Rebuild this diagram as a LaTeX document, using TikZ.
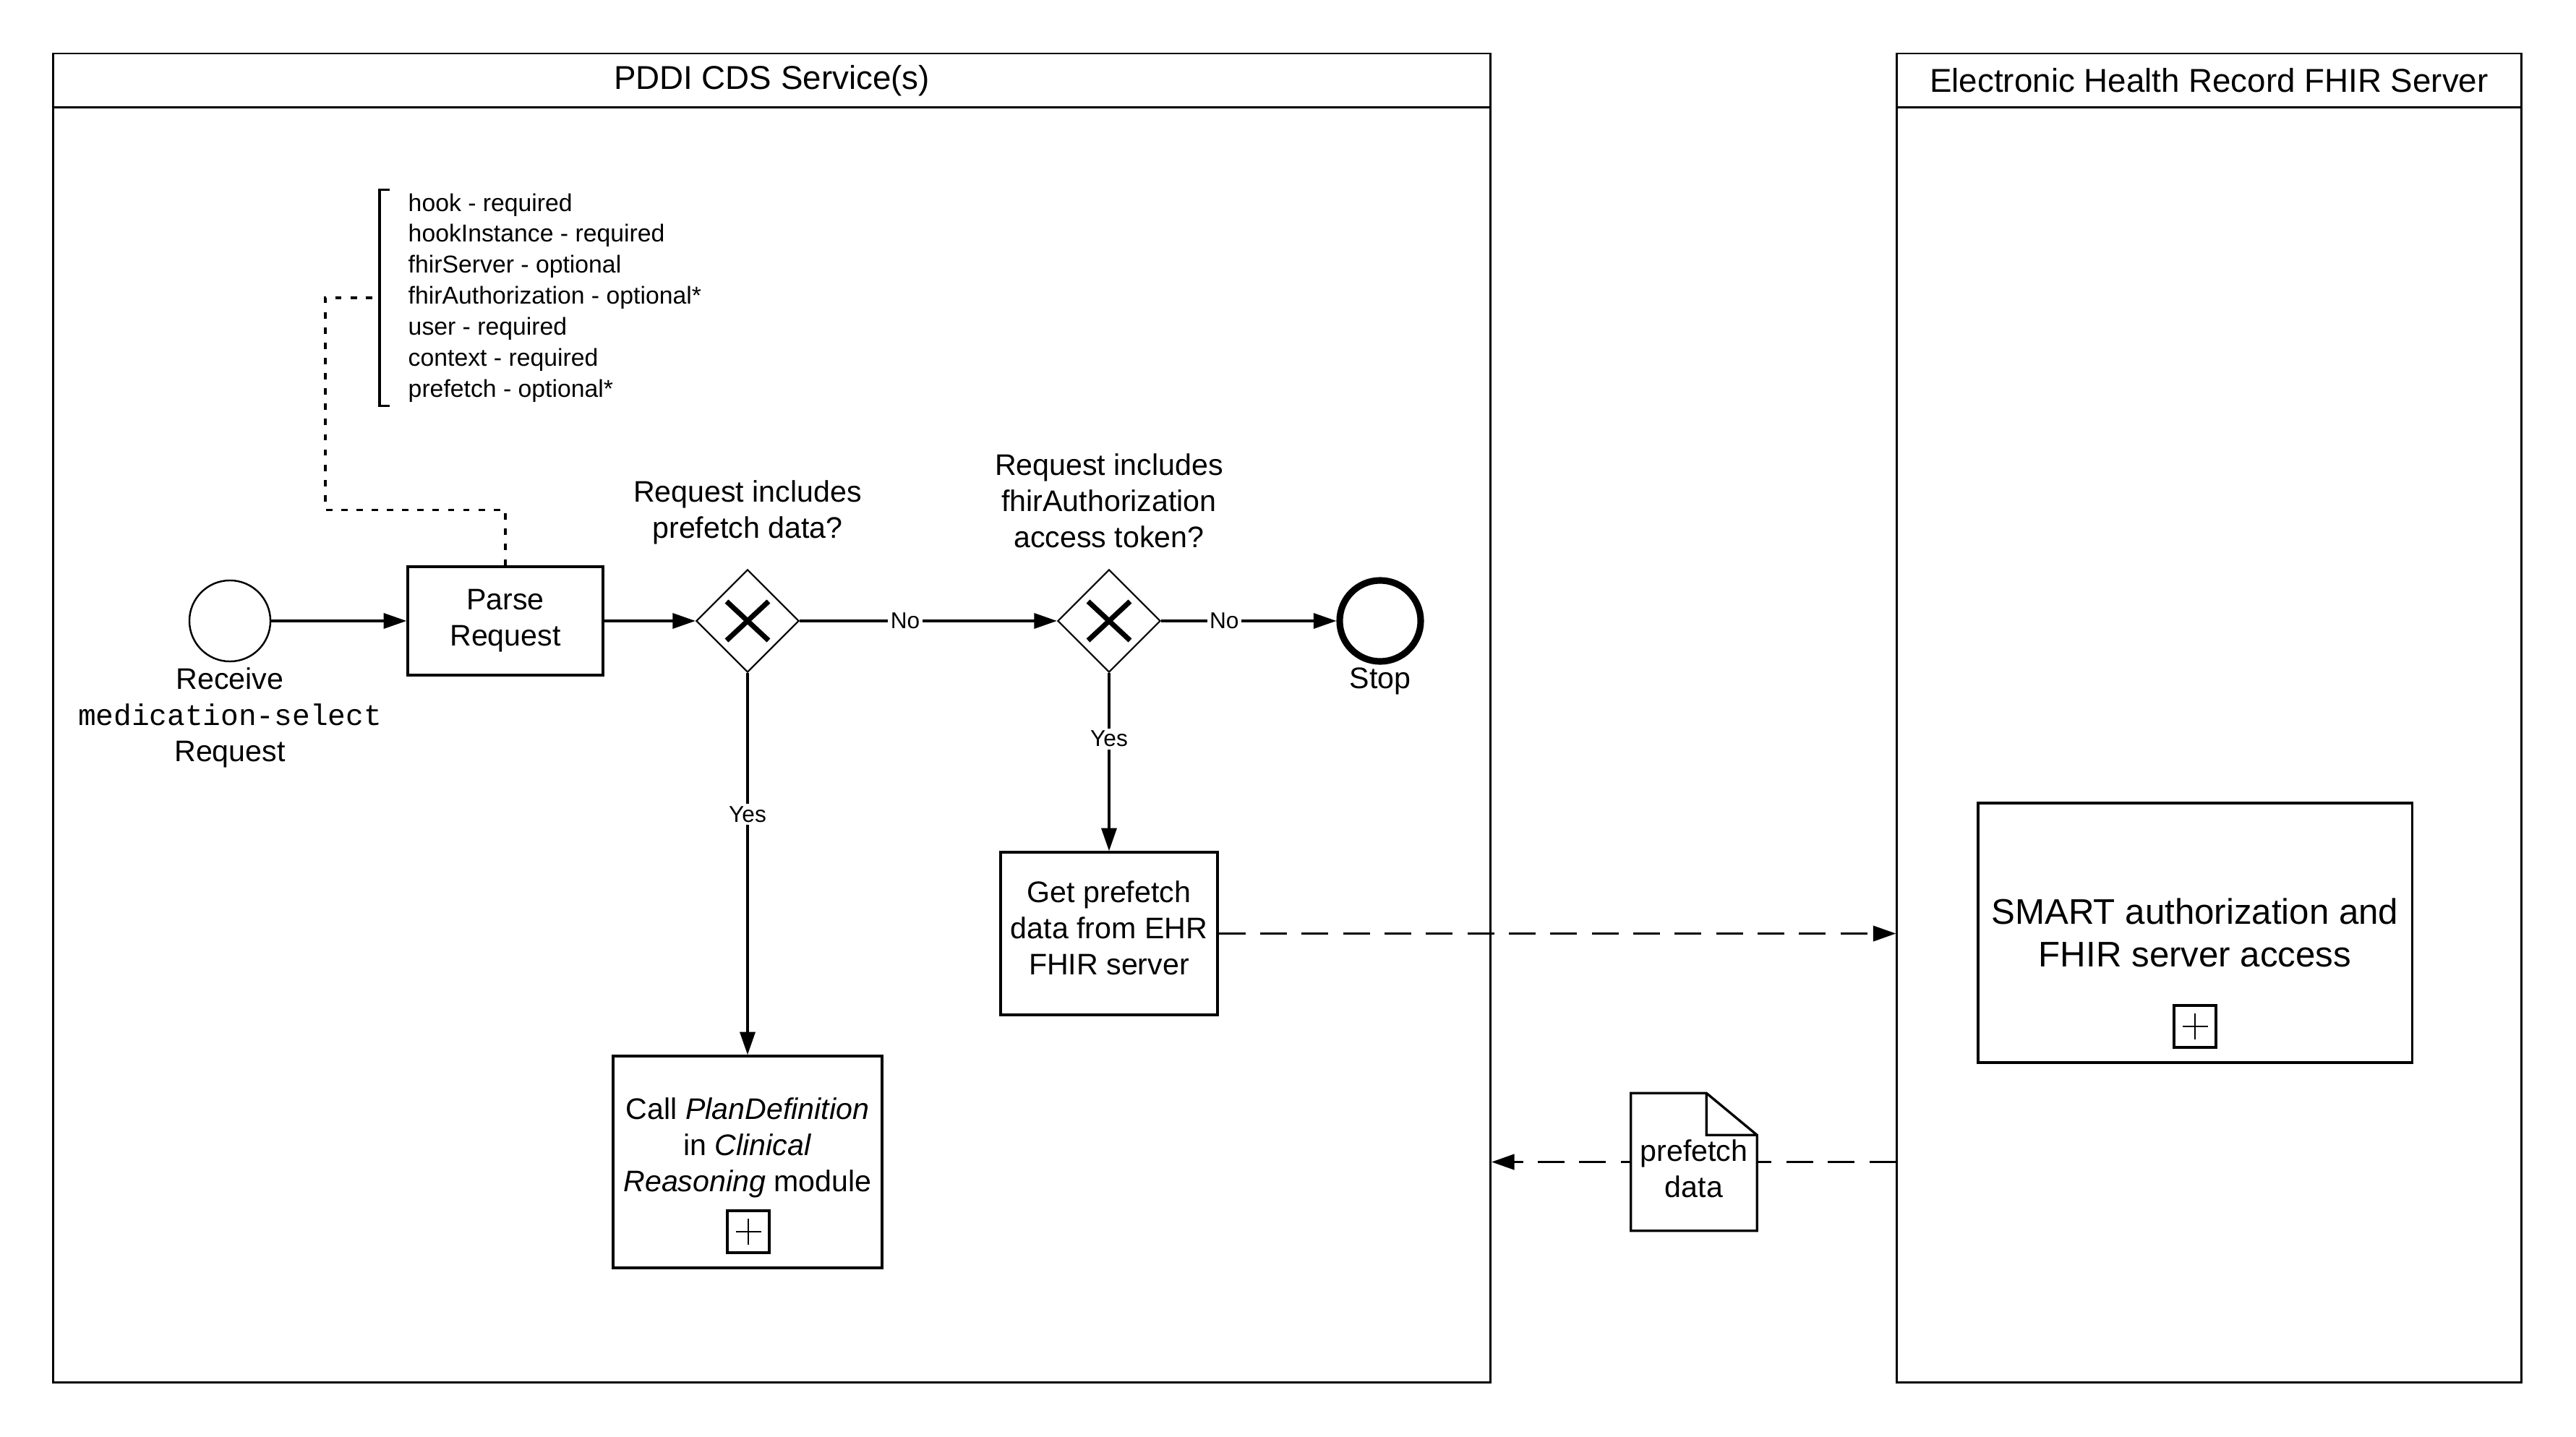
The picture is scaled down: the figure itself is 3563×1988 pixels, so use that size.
\documentclass[tikz,border=0pt]{standalone}
\usepackage{fontspec}
\setmainfont{Liberation Sans}
\setmonofont{Liberation Mono}
\usetikzlibrary{positioning, shapes.geometric, arrows.meta, backgrounds}

\begin{document}
\begin{tikzpicture}[x=0.01cm, y=-0.01cm]
		\tikzset{
			every node/.style={
				align=center,
				font=\fontsize{11.7}{14.2}\selectfont
			},
			pool/.style={
				rectangle,
				draw,
				line width=0.75pt,
				font=\fontsize{13}{15.6}\selectfont
			},
			task/.style={
				rectangle,
				draw,
				line width=0.95pt,
				inner sep=0.1cm
			},
			startev/.style={
				circle,
				draw,
				line width=0.7pt,
				minimum size=1.12cm
			},
			endev/.style={
				circle,
				draw,
				line width=2.6pt,
				minimum size=1.12cm
			},
			gateway/.style={
				diamond,
				draw,
				line width=0.6pt,
				minimum width=1.42cm,
				minimum height=1.42cm,
				inner sep=0pt
			},
			xmark/.style={
				line width=2pt
			},
			plusbox/.style={
				rectangle,
				draw,
				line width=0.95pt,
				minimum size=0.58cm,
				inner sep=0pt,
				path picture={
					\draw[line width=0.6pt]
						([xshift=-0.175cm]path picture bounding box.center) --
						([xshift=0.175cm]path picture bounding box.center)
						([yshift=-0.18cm]path picture bounding box.center) --
						([yshift=0.18cm]path picture bounding box.center);
				}
			},
			docbox/.style={
				rectangle,
				fill=white,
				minimum width=1.73cm,
				minimum height=1.89cm,
				inner sep=0pt
			},
			docline/.style={
				line width=0.95pt
			},
			notetext/.style={
				align=left,
				font=\fontsize{9.6}{12.2}\selectfont,
				inner xsep=0.39cm,
				inner ysep=0.045cm
			},
			edgelabel/.style={
				fill=white,
				inner sep=1pt,
				font=\fontsize{9}{10.8}\selectfont
			},
			line/.style={
				-{Triangle[length=9pt, width=6pt]},
				line width=0.95pt
			},
			msg/.style={
				-{Triangle[length=9pt, width=6pt]},
				line width=1.1pt,
				dash pattern=on 10.5pt off 5.8pt
			},
			assoc/.style={
				line width=1pt,
				dash pattern=on 2.5pt off 3.5pt
			},
			bracket/.style={
				line width=1pt
			}
		}

		\useasboundingbox (0,0) rectangle (3563,1988);

		% pools
		\node[pool, minimum width=19.87cm, minimum height=0.75cm] (cds-head) at (1067.5,111.5)
			{PDDI CDS Service(s)};
		\node[pool, minimum width=19.87cm, minimum height=17.63cm] (cds) at (1067.5,1030.5)
			{};
		\node[pool, minimum width=8.63cm, minimum height=0.75cm] (ehr-head) at (3055.5,111.5)
			{Electronic Health Record FHIR Server};
		\node[pool, minimum width=8.63cm, minimum height=17.63cm] (ehr) at (3055.5,1030.5)
			{};

		% events and gateways
		\node[startev] (recv) at (318,859)
			{};
		\node[inner sep=2pt, anchor=north] (recv-txt) at (recv.south)
			{Receive\\\texttt{medication-select}\\Request};
		\node[endev] (stop) at (1909,859)
			{};
		\node[inner sep=1pt, anchor=north] (stop-txt) at (stop.south)
			{Stop};

		\node[gateway] (gw1) at (1034,859)
			{};
		\node[gateway] (gw2) at (1534,859)
			{};
		\foreach \g in {gw1, gw2}
			\draw[xmark] ([shift={(-29,-27)}]\g.center) -- ([shift={(29,27)}]\g.center)
				([shift={(-29,27)}]\g.center) -- ([shift={(29,-27)}]\g.center);

		\node (gw1-q) at (1034,709)
			{Request includes\\prefetch data?};
		\node (gw2-q) at (1534,693)
			{Request includes\\fhirAuthorization\\access token?};

		% tasks
		\node[task, minimum width=2.7cm, minimum height=1.5cm] (parse) at (699,859)
			{Parse\\Request};
		\node[task, minimum width=3cm, minimum height=2.25cm] (get) at (1534,1291.5)
			{};
		\node (get-txt) at (1534,1284)
			{Get prefetch\\data from EHR\\FHIR server};
		\node[task, minimum width=3.72cm, minimum height=2.93cm] (call) at (1034,1607.5)
			{};
		\node (call-txt) at (1034,1588)
			{Call \textit{PlanDefinition}\\in \textit{Clinical}\\\textit{Reasoning} module};
		\node[plusbox] (call-plus) at (1035,1704)
			{};
		\node[task, minimum width=6cm, minimum height=3.59cm,
			font=\fontsize{14}{16.8}\selectfont] (smart) at (3036,1290.5)
			{SMART authorization and\\FHIR server access};
		\node[plusbox] (smart-plus) at (3036,1420)
			{};

		% request arguments
		\node[notetext, anchor=west] (args) at (525,412)
			{hook - required\\hookInstance - required\\fhirServer - optional\\fhirAuthorization - optional*\\user - required\\context - required\\prefetch - optional*};
		\draw[bracket] ([xshift=0.14cm]args.north west) -- (args.north west)
			-- (args.south west) -- ([xshift=0.14cm]args.south west);
		\draw[assoc] (parse.north) -- ++(0,-77) -| ([xshift=-0.75cm]args.west) -- (args.west);

		% prefetch data object
		\node[docbox] (doc) at (2343,1607.5)
			{};
		\draw[docline] (doc.north west) -- ([xshift=-0.7cm]doc.north east)
			-- ([yshift=-0.58cm]doc.north east) -- (doc.south east) -- (doc.south west) -- cycle
			([xshift=-0.7cm]doc.north east) |- ([yshift=-0.58cm]doc.north east);
		\node[inner sep=1pt] (doc-txt) at (2343,1617)
			{prefetch\\data};

		% sequence flow
		\draw[line] (recv) -- (parse);
		\draw[line] (parse) -- (gw1);
		\draw[line] (gw1) -- node[pos=0.41, edgelabel] {No} (gw2);
		\draw[line] (gw2) -- node[pos=0.36, edgelabel] {No} (stop);
		\draw[line] (gw1) -- node[pos=0.37, edgelabel] {Yes} (call);
		\draw[line] (gw2) -- node[pos=0.37, edgelabel] {Yes} (get);

		% message flow
		\begin{scope}[on background layer]
			\draw[msg] (get.east) -- (get.east -| ehr.west);
			\draw[msg] (ehr.west |- doc.center) -- (cds.east |- doc.center);
		\end{scope}

	\end{tikzpicture}
\end{document}
